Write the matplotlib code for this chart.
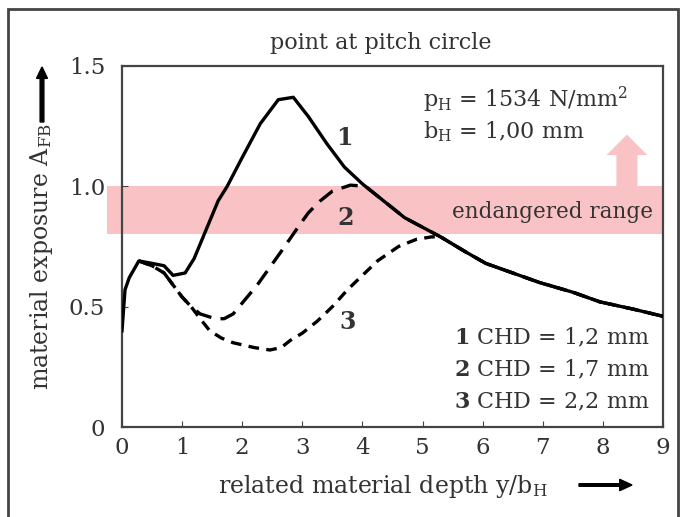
import numpy as np
import matplotlib
matplotlib.use("Agg")
from matplotlib import pyplot as plt
from matplotlib.patches import Rectangle, FancyArrow

# depth y/bH and material exposure
x1 = [0.0, 0.05, 0.12, 0.28, 0.5, 0.7, 0.85, 1.05, 1.2, 1.4, 1.6, 1.75, 2.0, 2.3, 2.6, 2.85,
      3.1, 3.4, 3.7, 4.0, 4.3, 4.7, 5.0, 5.3, 5.7, 6.05, 6.5, 6.95, 7.5, 7.95, 8.5, 9.0]
y1 = [0.40, 0.57, 0.62, 0.69, 0.68, 0.67, 0.63, 0.64, 0.70, 0.82, 0.94, 1.00, 1.12, 1.26, 1.36, 1.37,
      1.29, 1.18, 1.08, 1.01, 0.95, 0.87, 0.83, 0.79, 0.73, 0.68, 0.64, 0.60, 0.56, 0.52, 0.49, 0.46]

x2 = [0.28, 0.5, 0.7, 0.85, 1.0, 1.15, 1.3, 1.55, 1.7, 1.85, 2.05, 2.25, 2.45, 2.65, 2.9,
      3.1, 3.3, 3.5, 3.8, 4.05, 4.3, 4.7, 5.0, 5.3, 5.7, 6.05, 6.5, 6.95, 7.5, 7.95, 8.5, 9.0]
y2 = [0.69, 0.67, 0.64, 0.59, 0.54, 0.50, 0.47, 0.45, 0.45, 0.47, 0.53, 0.59, 0.66, 0.73, 0.82,
      0.89, 0.94, 0.98, 1.005, 1.0, 0.95, 0.87, 0.83, 0.79, 0.73, 0.68, 0.64, 0.60, 0.56, 0.52, 0.49, 0.46]

x3 = [0.28, 0.5, 0.7, 0.85, 1.0, 1.15, 1.3, 1.46, 1.65, 1.85, 2.2, 2.46, 2.65, 2.8, 3.0, 3.25,
      3.5, 3.75, 4.0, 4.25, 4.6, 4.9, 5.15, 5.3, 5.7, 6.05, 6.5, 6.95, 7.5, 7.95, 8.5, 9.0]
y3 = [0.69, 0.67, 0.64, 0.59, 0.54, 0.50, 0.45, 0.40, 0.37, 0.35, 0.33, 0.32, 0.33, 0.36, 0.39, 0.44,
      0.50, 0.57, 0.63, 0.69, 0.75, 0.78, 0.79, 0.79, 0.73, 0.68, 0.64, 0.60, 0.56, 0.52, 0.49, 0.46]

danger_low, danger_high = 0.8, 1.0
xticks = [0, 1, 2, 3, 4, 5, 6, 7, 8, 9]
yticks = [0, 0.5, 1.0, 1.5]
ytick_labels = ["0", "0.5", "1.0", "1.5"]
legend_lines = [r"$\mathbf{1}$ CHD = 1,2 mm", r"$\mathbf{2}$ CHD = 1,7 mm", r"$\mathbf{3}$ CHD = 2,2 mm"]

plt.rcParams['font.family'] = 'DejaVu Serif'
plt.rcParams['mathtext.fontset'] = 'dejavuserif'
txt = '#333333'
W, H = 684, 517

fig = plt.figure(figsize=(6.84, 5.17), dpi=100)
ax = fig.add_axes([122 / W, 1 - 427 / H, 541 / W, 361 / H])

# outer frame around the whole figure (bottom edge is off the picture)
fig.patches.append(Rectangle((8 / W, -0.05), 670 / W, 1.05 - 9 / H, transform=fig.transFigure,
                             fill=False, edgecolor='#444444', linewidth=2))

pink = '#f9c3c6'
# endangered band, sticks out a bit left of the axes
ax.add_patch(Rectangle((-0.25, danger_low), 9.25, danger_high - danger_low, facecolor=pink,
                       edgecolor='none', clip_on=False, zorder=1))
ax.add_patch(FancyArrow(8.4, danger_high, 0, 0.215, width=0.35, head_width=0.68, head_length=0.085,
                        length_includes_head=True, facecolor=pink, edgecolor='none', zorder=1))
ax.text(8.84, 0.895, "endangered range", ha='right', va='center', fontsize=15.5, color=txt, zorder=2)

ax.plot(x1, y1, color='black', lw=2.4, zorder=3)
ax.plot(x2, y2, color='black', lw=2.4, ls=(0, (5, 2.8)), zorder=3)
ax.plot(x3, y3, color='black', lw=2.4, ls=(0, (3.2, 2.2)), zorder=3)

ax.text(3.7, 1.2, "1", fontsize=17, fontweight='bold', ha='center', va='center', color=txt)
ax.text(3.72, 0.87, "2", fontsize=17, fontweight='bold', ha='center', va='center', color=txt)
ax.text(3.75, 0.435, "3", fontsize=17, fontweight='bold', ha='center', va='center', color=txt)

ax.text(5.0, 1.36, r"p$_\mathrm{H}$ = 1534 N/mm$^2$", fontsize=16, ha='left', va='center', color=txt)
ax.text(5.0, 1.225, r"b$_\mathrm{H}$ = 1,00 mm", fontsize=16, ha='left', va='center', color=txt)

for i, line in enumerate(legend_lines):
    yy = 0.372 - i * 0.135
    ax.text(8.77, yy, line, fontsize=16, ha='right', va='center', color=txt)

ax.set_xlim(0, 9)
ax.set_ylim(0, 1.5)
ax.set_xticks(xticks)
ax.set_yticks(yticks)
ax.set_yticklabels(ytick_labels)
ax.tick_params(direction='in', length=4, labelsize=16.5, colors='#444444', labelcolor=txt)
ax.tick_params(axis='x', pad=7)
ax.tick_params(axis='y', pad=12)
for s in ax.spines.values():
    s.set_linewidth(1.6)
    s.set_color('#444444')

fig.text(381 / W, 1 - 43 / H, "point at pitch circle", ha='center', va='center', fontsize=16, color=txt)
fig.text(383 / W, 1 - 487 / H, r"related material depth y/b$_\mathrm{H}$", ha='center', va='center',
         fontsize=17, color=txt)
fig.text(42 / W, 1 - 257 / H, r"material exposure A$_\mathrm{FB}$", ha='center', va='center',
         rotation=90, fontsize=17, color=txt)

# direction arrows next to the axis labels
fig.patches.append(FancyArrow(579 / W, 1 - 485 / H, 53 / W, 0, width=0.005, head_width=0.022,
                              head_length=0.018, length_includes_head=True, transform=fig.transFigure,
                              color='black'))
fig.patches.append(FancyArrow(42 / W, 1 - 122 / H, 0, 55 / H, width=0.0055, head_width=0.016,
                              head_length=0.022, length_includes_head=True, transform=fig.transFigure,
                              color='black'))

fig.savefig('out.png', dpi=100)
